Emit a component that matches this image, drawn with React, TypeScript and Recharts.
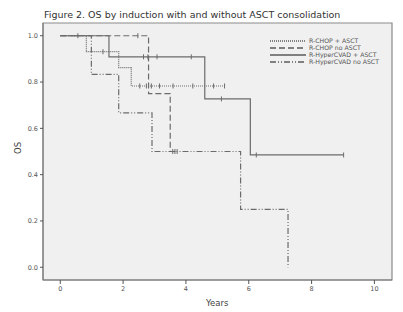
import {
  ComposedChart,
  Line,
  Scatter,
  XAxis,
  YAxis,
  ReferenceArea,
} from "recharts";

// Kaplan-Meier step points [years, survival]
const rchopAsct = [
  [0, 1],
  [0.83, 0.931],
  [1.86, 0.862],
  [2.26, 0.783],
  [5.23, 0.783],
];
const rchopNoAsct = [
  [0, 1],
  [2.81, 0.75],
  [3.5, 0.5],
  [3.72, 0.5],
];
const hyperAsct = [
  [0, 1],
  [1.55, 0.909],
  [4.6, 0.727],
  [6.05, 0.485],
  [9.02, 0.485],
];
const hyperNoAsct = [
  [0, 1],
  [0.99, 0.833],
  [1.86, 0.667],
  [2.92, 0.5],
  [5.74, 0.25],
  [7.25, 0],
];

// censored observations [years, survival]
const rchopAsctCens = [
  [1.36, 0.931],
  [2.53, 0.783],
  [2.74, 0.783],
  [2.9, 0.783],
  [3.16, 0.783],
  [3.59, 0.783],
  [4.22, 0.783],
  [4.88, 0.783],
  [5.23, 0.783],
];
const rchopNoAsctCens = [
  [2.47, 1],
  [3.58, 0.5],
  [3.65, 0.5],
  [3.72, 0.5],
];
const hyperAsctCens = [
  [0.56, 1],
  [2.65, 0.909],
  [2.79, 0.909],
  [3.08, 0.909],
  [4.17, 0.909],
  [5.13, 0.727],
  [6.24, 0.485],
  [9.02, 0.485],
];
const hyperNoAsctCens: number[][] = [];

const xTicks = [0, 2, 4, 6, 8, 10];
const yTicks = [0, 0.2, 0.4, 0.6, 0.8, 1.0];

const toPts = (arr: number[][]) => arr.map(([x, y]) => ({ x, y }));

const series = [
  { name: "R-CHOP + ASCT", steps: rchopAsct, cens: rchopAsctCens, dash: "1 1" },
  { name: "R-CHOP no ASCT", steps: rchopNoAsct, cens: rchopNoAsctCens, dash: "6 3" },
  { name: "R-HyperCVAD + ASCT", steps: hyperAsct, cens: hyperAsctCens, dash: undefined },
  { name: "R-HyperCVAD no ASCT", steps: hyperNoAsct, cens: hyperNoAsctCens, dash: "6 2 1 2 1 2" },
];

const LINE = "#6b6b6b";
const FONT = "'DejaVu Sans', sans-serif";

const CensorTick = (props: any) => {
  const { cx, cy } = props;
  if (cx == null || cy == null) return null;
  return <line x1={cx} x2={cx} y1={cy - 2.5} y2={cy + 2.5} stroke={LINE} strokeWidth={1} />;
};

export default function App() {
  return (
    <div style={{ position: "absolute", left: 0, top: 0, width: 403, height: 312, background: "#fff" }}>
      <ComposedChart
        width={403}
        height={312}
        margin={{ top: 23, right: 11, left: 0, bottom: 0 }}
        style={{ position: "absolute", left: 0, top: 0 }}
      >
        <XAxis
          type="number"
          dataKey="x"
          domain={[-0.55, 10.56]}
          ticks={xTicks}
          allowDataOverflow
          height={32}
          tick={{ fill: "#555", fontSize: 6.5, fontFamily: FONT }}
          tickLine={{ stroke: "#555" }}
          tickSize={4}
          axisLine={{ stroke: "#777" }}
        />
        <YAxis
          type="number"
          dataKey="y"
          domain={[-0.055, 1.055]}
          ticks={yTicks}
          allowDataOverflow
          width={43}
          tickFormatter={(v: number) => v.toFixed(1)}
          tick={{ fill: "#555", fontSize: 6.5, fontFamily: FONT }}
          tickLine={{ stroke: "#555" }}
          tickSize={3}
          axisLine={{ stroke: "#777" }}
        />
        <ReferenceArea
          x1={-0.55}
          x2={10.56}
          y1={-0.055}
          y2={1.055}
          fill="#f0f0f0"
          fillOpacity={1}
          stroke="#8a8a8a"
          strokeWidth={1.2}
        />
        {series.map((s) => (
          <Line
            key={s.name}
            data={toPts(s.steps)}
            dataKey="y"
            type="stepAfter"
            stroke={LINE}
            strokeWidth={1.2}
            strokeDasharray={s.dash}
            dot={false}
            activeDot={false}
            isAnimationActive={false}
            legendType="none"
          />
        ))}
        {series.map((s) => (
          <Scatter
            key={s.name + "-cens"}
            data={toPts(s.cens)}
            dataKey="y"
            shape={<CensorTick />}
            isAnimationActive={false}
            legendType="none"
          />
        ))}
      </ComposedChart>
      <div
        style={{
          position: "absolute",
          left: 44,
          top: 9,
          fontFamily: FONT,
          fontSize: 9.5,
          color: "#333",
          whiteSpace: "nowrap",
        }}
      >
        Figure 2. OS by induction with and without ASCT consolidation
      </div>
      <div
        style={{
          position: "absolute",
          left: 12,
          top: 143,
          fontFamily: FONT,
          fontSize: 8.5,
          color: "#444",
          transform: "rotate(-90deg)",
        }}
      >
        OS
      </div>
      <div
        style={{
          position: "absolute",
          left: 206,
          top: 298,
          fontFamily: FONT,
          fontSize: 8.5,
          color: "#444",
        }}
      >
        Years
      </div>
      <div
        style={{
          position: "absolute",
          left: 270,
          top: 37,
          fontFamily: FONT,
          fontSize: 6.2,
          color: "#555",
          lineHeight: "7px",
          whiteSpace: "nowrap",
        }}
      >
        {series.map((s) => (
          <div key={s.name} style={{ display: "flex", alignItems: "center", height: 7 }}>
            <svg width={36} height={4} style={{ marginRight: 3 }}>
              <line x1={0} x2={36} y1={2} y2={2} stroke="#111" strokeWidth={1} strokeDasharray={s.dash} />
            </svg>
            <span>{s.name}</span>
          </div>
        ))}
      </div>
    </div>
  );
}
